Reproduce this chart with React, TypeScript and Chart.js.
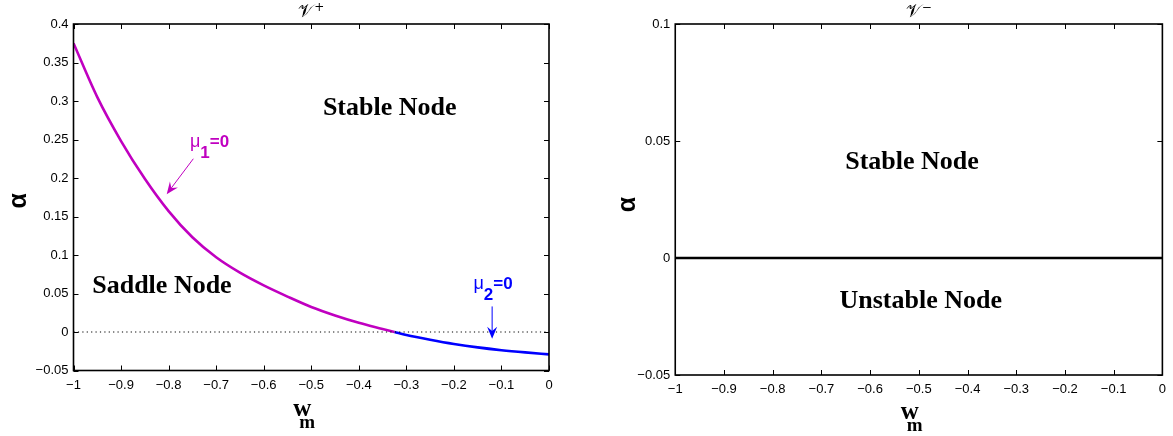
import React, { useEffect, useRef } from "react";
import { Chart, registerables } from "chart.js";
Chart.register(...registerables);

// ---- data ----
const wMu1 = [-1, -0.95, -0.9, -0.85, -0.8, -0.75, -0.7, -0.65, -0.6, -0.55, -0.5, -0.45, -0.4, -0.35, -0.325];
const alphaMu1 = [0.375, 0.305, 0.248, 0.199, 0.157, 0.123, 0.097, 0.077, 0.0605, 0.046, 0.0325, 0.0215, 0.012, 0.004, 0];
const wMu2 = [-0.325, -0.3, -0.25, -0.2, -0.15, -0.1, -0.05, 0];
const alphaMu2 = [0, -0.0038, -0.01, -0.0155, -0.02, -0.0236, -0.0265, -0.029];
const wZeroRef = [-1, 0];
const alphaZeroRef = [0, 0];
const wMinus = [-1, 0];
const alphaMinus = [0, 0];

const xTicks = [-1, -0.9, -0.8, -0.7, -0.6, -0.5, -0.4, -0.3, -0.2, -0.1, 0];
const yTicksPlus = [-0.05, 0, 0.05, 0.1, 0.15, 0.2, 0.25, 0.3, 0.35, 0.4];
const yTicksMinus = [-0.05, 0, 0.05, 0.1];

const titlePlus = ["\u{1D4B1}", "+"];
const titleMinus = ["\u{1D4B1}", "\u2212"];
const xLabel = ["w", "m"];
const yLabel = "\u03B1";

const MAGENTA = "#c000c0";
const BLUE = "#0000ff";

const fmt = (v: number) => {
  const r = Math.round(v * 1000) / 1000;
  if (r === 0) return "0";
  return (r < 0 ? "\u2212" : "") + String(Math.abs(r));
};

const pts = (xs: number[], ys: number[]) => xs.map((x, i) => ({ x, y: ys[i] }));

type Part = { text: string; font: string; dx?: number; dy?: number };

function drawParts(ctx: CanvasRenderingContext2D, parts: Part[], x: number, y: number, align: "left" | "center") {
  let total = 0;
  parts.forEach((p) => {
    ctx.font = p.font;
    total += (p.dx || 0) + ctx.measureText(p.text).width;
  });
  let cx = align === "center" ? x - total / 2 : x;
  ctx.textAlign = "left";
  ctx.textBaseline = "alphabetic";
  parts.forEach((p) => {
    ctx.font = p.font;
    cx += p.dx || 0;
    ctx.fillText(p.text, cx, y + (p.dy || 0));
    cx += ctx.measureText(p.text).width;
  });
}

function drawArrow(ctx: CanvasRenderingContext2D, x1: number, y1: number, x2: number, y2: number, color: string) {
  const ang = Math.atan2(y2 - y1, x2 - x1);
  const hl = 12, hw = 5;
  ctx.strokeStyle = color;
  ctx.fillStyle = color;
  ctx.lineWidth = 1;
  ctx.beginPath();
  ctx.moveTo(x1, y1);
  ctx.lineTo(x2 - Math.cos(ang) * hl * 0.6, y2 - Math.sin(ang) * hl * 0.6);
  ctx.stroke();
  const bx = x2 - Math.cos(ang) * hl, by = y2 - Math.sin(ang) * hl;
  const nx = -Math.sin(ang), ny = Math.cos(ang);
  const mx = x2 - Math.cos(ang) * hl * 0.65, my = y2 - Math.sin(ang) * hl * 0.65;
  ctx.beginPath();
  ctx.moveTo(x2, y2);
  ctx.lineTo(bx + nx * hw, by + ny * hw);
  ctx.lineTo(mx, my);
  ctx.lineTo(bx - nx * hw, by - ny * hw);
  ctx.closePath();
  ctx.fill();
}

const matlabPlugin = {
  id: "matlab",
  afterDatasetsDraw(chart: any, _args: any, opts: any) {
    const { ctx, chartArea: a, scales } = chart;
    const xs = scales.x, ys = scales.y;
    ctx.save();
    // inward ticks on all sides
    ctx.strokeStyle = "#000";
    ctx.lineWidth = 1;
    const L = 5;
    ctx.beginPath();
    xs.ticks.forEach((t: any) => {
      const px = Math.round(xs.getPixelForValue(t.value)) + 0.5;
      ctx.moveTo(px, a.bottom); ctx.lineTo(px, a.bottom - L);
      ctx.moveTo(px, a.top); ctx.lineTo(px, a.top + L);
    });
    ys.ticks.forEach((t: any) => {
      const py = Math.round(ys.getPixelForValue(t.value)) + 0.5;
      ctx.moveTo(a.left, py); ctx.lineTo(a.left + L, py);
      ctx.moveTo(a.right, py); ctx.lineTo(a.right - L, py);
    });
    ctx.stroke();
    // frame
    ctx.lineWidth = 1.6;
    ctx.strokeRect(a.left, a.top, a.right - a.left, a.bottom - a.top);

    const cx = (a.left + a.right) / 2;
    ctx.fillStyle = "#000";
    // title
    drawParts(ctx, [
      { text: opts.title[0], font: '18px "DejaVu Serif"' },
      { text: opts.title[1], font: '12px "DejaVu Serif"', dx: 1, dy: -6 },
    ], cx, 17, "center");
    // x label w_m
    drawParts(ctx, [
      { text: xLabel[0], font: 'bold 25px "Liberation Serif"' },
      { text: xLabel[1], font: 'bold 19px "Liberation Serif"', dx: -12, dy: 12 },
    ], cx - 18, a.bottom + opts.xLabelDy, "left");
    // y label alpha
    ctx.save();
    ctx.translate(a.left - opts.yLabelDx, (a.top + a.bottom) / 2 + opts.yLabelDy);
    ctx.rotate(-Math.PI / 2);
    ctx.font = 'bold 25px "Liberation Sans"';
    ctx.textAlign = "center";
    ctx.textBaseline = "middle";
    ctx.fillText(yLabel, 0, 0);
    ctx.restore();

    // annotations
    (opts.texts || []).forEach((t: any) => {
      ctx.fillStyle = t.color;
      drawParts(ctx, t.parts, xs.getPixelForValue(t.x), ys.getPixelForValue(t.y), t.align);
    });
    (opts.arrows || []).forEach((r: any) => {
      drawArrow(ctx, xs.getPixelForValue(r.x1), ys.getPixelForValue(r.y1), xs.getPixelForValue(r.x2), ys.getPixelForValue(r.y2), r.color);
    });
    ctx.restore();
  },
};

const nodeFont = 'bold 26px "Liberation Serif"';
const muFont = '18px "Liberation Sans"';
const muBold = 'bold 17px "Liberation Sans"';

function makeConfig(kind: "plus" | "minus") {
  const plus = kind === "plus";
  const datasets: any[] = plus
    ? [
        { data: pts(wZeroRef, alphaZeroRef), borderColor: "#000", borderWidth: 1.2, borderDash: [1.2, 3.2], pointRadius: 0 },
        { data: pts(wMu1, alphaMu1), borderColor: MAGENTA, borderWidth: 2.6, pointRadius: 0, cubicInterpolationMode: "monotone" },
        { data: pts(wMu2, alphaMu2), borderColor: BLUE, borderWidth: 2.6, pointRadius: 0, cubicInterpolationMode: "monotone" },
      ]
    : [{ data: pts(wMinus, alphaMinus), borderColor: "#000", borderWidth: 2.6, pointRadius: 0 }];

  const yW = plus ? 73.5 : 89.25;
  const xH = plus ? 65.5 : 61;
  const yTicks = plus ? yTicksPlus : yTicksMinus;
  const tickFont = { family: '"Liberation Sans"', size: 13 };
  const grid = { display: false, drawTicks: false, tickLength: 0 };

  const texts = plus
    ? [
        { x: -0.335, y: 0.282, align: "center", color: "#000", parts: [{ text: "Stable Node", font: nodeFont }] },
        { x: -0.814, y: 0.051, align: "center", color: "#000", parts: [{ text: "Saddle Node", font: nodeFont }] },
        {
          x: -0.755, y: 0.24, align: "left", color: MAGENTA,
          parts: [{ text: "\u03BC", font: muFont }, { text: "1", font: muBold, dy: 11 }, { text: "=0", font: muBold }],
        },
        {
          x: -0.159, y: 0.0557, align: "left", color: BLUE,
          parts: [{ text: "\u03BC", font: muFont }, { text: "2", font: muBold, dy: 11 }, { text: "=0", font: muBold }],
        },
      ]
    : [
        { x: -0.514, y: 0.038, align: "center", color: "#000", parts: [{ text: "Stable Node", font: nodeFont }] },
        { x: -0.496, y: -0.0215, align: "center", color: "#000", parts: [{ text: "Unstable Node", font: nodeFont }] },
      ];
  const arrows = plus
    ? [
        { x1: -0.748, y1: 0.225, x2: -0.804, y2: 0.179, color: MAGENTA },
        { x1: -0.1196, y1: 0.0332, x2: -0.1196, y2: -0.0089, color: BLUE },
      ]
    : [];

  return {
    type: "line",
    data: { datasets },
    options: {
      animation: false,
      responsive: false,
      devicePixelRatio: 1,
      layout: { padding: { top: 24, right: plus ? 37 : 10.25, left: 0, bottom: 0 } },
      plugins: {
        legend: { display: false },
        tooltip: { enabled: false },
        title: { display: false },
        matlab: {
          title: plus ? titlePlus : titleMinus,
          xLabelDy: plus ? 45 : 44,
          yLabelDx: plus ? 54 : 47,
          yLabelDy: plus ? 3.5 : 5,
          texts,
          arrows,
        },
      },
      scales: {
        x: {
          type: "linear",
          min: -1,
          max: 0,
          grid,
          border: { display: false },
          afterBuildTicks: (s: any) => { s.ticks = xTicks.map((v) => ({ value: v })); },
          afterFit: (s: any) => { s.height = xH; },
          ticks: { callback: (v: any) => fmt(Number(v)), color: "#000", font: tickFont, padding: 7, maxRotation: 0, autoSkip: false },
        },
        y: {
          type: "linear",
          min: -0.05,
          max: plus ? 0.4 : 0.1,
          grid,
          border: { display: false },
          afterBuildTicks: (s: any) => { s.ticks = yTicks.map((v) => ({ value: v })); },
          afterFit: (s: any) => { s.width = yW; },
          ticks: { callback: (v: any) => fmt(Number(v)), color: "#000", font: tickFont, padding: 5, autoSkip: false },
        },
      },
    },
    plugins: [matlabPlugin],
  };
}

function Panel({ kind, left, width }: { kind: "plus" | "minus"; left: number; width: number }) {
  const ref = useRef<HTMLCanvasElement | null>(null);
  useEffect(() => {
    if (!ref.current) return;
    const chart = new Chart(ref.current, makeConfig(kind) as any);
    return () => chart.destroy();
  }, [kind]);
  return (
    <div style={{ position: "absolute", left, top: 0, width, height: 436 }}>
      <canvas ref={ref} width={width} height={436} style={{ width, height: 436, display: "block" }} />
    </div>
  );
}

export default function App() {
  return (
    <div style={{ position: "absolute", left: 0, top: 0, width: 1173, height: 436, background: "#fff", overflow: "hidden" }}>
      <Panel kind="plus" left={0} width={586} />
      <Panel kind="minus" left={586} width={587} />
    </div>
  );
}
